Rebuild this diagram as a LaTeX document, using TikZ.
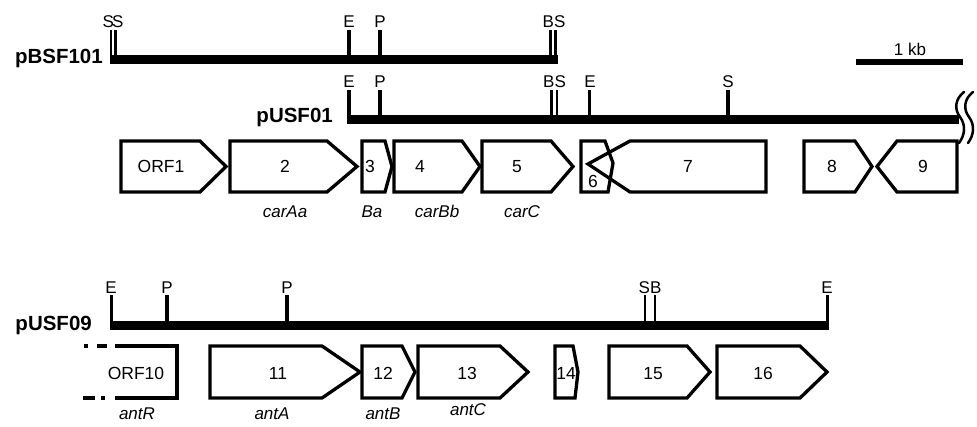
\documentclass[tikz,border=0pt]{standalone}
\usepackage{fontspec}
\setmainfont{Liberation Sans}
% forward gene: left, shoulder, tip, top, bottom
\newcommand\fwdgene[5]{\draw[gene] (#1,#4) -- (#2,#4) -- (#3,{(#4+#5)/2}) -- (#2,#5) -- (#1,#5) -- cycle;}
% reverse gene: right, shoulder, tip, top, bottom
\newcommand\revgene[5]{\draw[gene] (#1,#4) -- (#2,#4) -- (#3,{(#4+#5)/2}) -- (#2,#5) -- (#1,#5) -- cycle;}
% restriction site tick: x, top, bottom, width
\newcommand\sitetick[4]{\fill ({#1-#4/2},#2) rectangle ({#1+#4/2},#3);}
\begin{document}
\begin{tikzpicture}[x=1pt,y=-1pt,
  gene/.style={line width=3.3pt, line join=miter, fill=white, draw=black},
  sitelbl/.style={anchor=base, inner sep=0pt, font=\fontsize{17}{17}\selectfont},
  numlbl/.style={anchor=base, inner sep=0pt, font=\fontsize{17.5}{17.5}\selectfont},
  namelbl/.style={anchor=base, inner sep=0pt, font=\fontsize{17}{17}\selectfont\itshape},
  plasmid/.style={anchor=base east, inner sep=0pt, font=\fontsize{20.5}{20.5}\selectfont\bfseries},
  brk/.style={line width=2.5pt, line cap=round}]
\useasboundingbox (0,0) rectangle (977,426);

% ---------------- pBSF101 ----------------
\fill (110,55) rectangle (558,64);
\sitetick{111}{30}{55}{2.6}
\sitetick{115.3}{30}{55}{2.6}
\sitetick{349}{30}{55}{3.2}
\sitetick{380}{30}{55}{3.2}
\sitetick{550.5}{30}{55}{2.6}
\sitetick{555.5}{30}{55}{2.6}
\node[plasmid] (pbsf) at (103,63) {pBSF101};
\node[sitelbl] (b1ss) at (113,27) {S\kern-2pt S};
\node[sitelbl] (b1e) at (349,27) {E};
\node[sitelbl] (b1p) at (380,27) {P};
\node[sitelbl] (b1bs) at (554,27) {BS};

% scale bar
\fill (856,59) rectangle (963,65);
\node[sitelbl] (kb) at (910,55) {1 kb};

% ---------------- pUSF01 ----------------
\fill (347,115) rectangle (959,124);
\sitetick{349}{90}{115}{3.2}
\sitetick{380}{90}{115}{3.2}
\sitetick{551.5}{90}{115}{2.6}
\sitetick{557}{90}{115}{2.6}
\sitetick{589.5}{90}{115}{3.2}
\sitetick{728}{90}{115}{3.2}
\node[plasmid] (pusf01) at (333,122) {pUSF01};
\node[sitelbl] (u1e) at (349,87) {E};
\node[sitelbl] (u1p) at (380,87) {P};
\node[sitelbl] (u1bs) at (554.5,87) {BS};
\node[sitelbl] (u1e2) at (590,87) {E};
\node[sitelbl] (u1s) at (728,87) {S};

% break in the insert
\fill[white] (960,108) rectangle (977,130);
\draw[brk] (964,92) .. controls (955,99) and (954,109) .. (960,117)
  .. controls (966,125) and (965,135) .. (959,143);
\draw[brk] (973,92) .. controls (964,99) and (963,109) .. (969,117)
  .. controls (975,125) and (974,135) .. (968,143);

% genes, first cluster
\fwdgene{121}{200}{226}{141}{192}
\fwdgene{230}{327}{357}{141}{192}
\fwdgene{362}{385}{392}{141}{192}
\fwdgene{394}{462}{480}{141}{192}
\fwdgene{482}{551}{573}{141}{192}
\draw[gene] (581,141) -- (605,141) -- (613,163) -- (608,192) -- (581,192) -- cycle;
\draw[gene, fill=none] (766,141) -- (630,141) -- (588,164) -- (630,192) -- (766,192) -- cycle;
\fwdgene{804}{855}{872}{141}{192}
\revgene{957}{897}{877}{141}{192}

\node[numlbl] (g1) at (161,172) {ORF1};
\node[numlbl] (g2) at (285,172) {2};
\node[numlbl] (g3) at (370,172) {3};
\node[numlbl] (g4) at (420,172) {4};
\node[numlbl] (g5) at (517,172) {5};
\node[numlbl] (g6) at (593,187) {6};
\node[numlbl] (g7) at (688,172) {7};
\node[numlbl] (g8) at (832,172) {8};
\node[numlbl] (g9) at (923,172) {9};

\node[namelbl] (carAa) at (285,217) {carAa};
\node[namelbl] (Ba) at (372,217) {Ba};
\node[namelbl] (carBb) at (437,217) {carBb};
\node[namelbl] (carC) at (522,217) {carC};

% ---------------- pUSF09 ----------------
\fill (110,321) rectangle (829,330);
\sitetick{111.5}{295}{321}{3.2}
\sitetick{167}{295}{321}{3.2}
\sitetick{287}{295}{321}{3.2}
\sitetick{645}{295}{321}{2.8}
\sitetick{655}{295}{321}{2.8}
\sitetick{827.5}{295}{321}{3.2}
\node[plasmid] (pusf09) at (92,330) {pUSF09};
\node[sitelbl] (u9e) at (111,293) {E};
\node[sitelbl] (u9p) at (167,293) {P};
\node[sitelbl] (u9p2) at (287,293) {P};
\node[sitelbl] (u9sb) at (650,293) {SB};
\node[sitelbl] (u9e2) at (827,293) {E};

% truncated ORF10
\draw[line width=3.3pt, line join=miter] (115,346) -- (177,346) -- (177,398) -- (115,398);
\draw[line width=3.3pt] (84,346) -- (88,346) (97,346) -- (107,346);
\draw[line width=3.3pt] (83,398) -- (95,398) (101,398) -- (105,398);

\fwdgene{210}{322}{360}{346}{398}
\fwdgene{362}{402}{415}{346}{398}
\fwdgene{418}{500}{528}{346}{398}
\draw[gene] (555,346) -- (573,346) -- (578,372) -- (575,398) -- (555,398) -- cycle;
\fwdgene{609}{687}{710}{346}{398}
\fwdgene{717}{800}{827}{346}{398}

\node[numlbl] (g10) at (136,379) {ORF10};
\node[numlbl] (g11) at (278,379) {11};
\node[numlbl] (g12) at (383,379) {12};
\node[numlbl] (g13) at (467,379) {13};
\node[numlbl] (g14) at (566,379) {14};
\node[numlbl] (g15) at (653,379) {15};
\node[numlbl] (g16) at (763,379) {16};

\node[namelbl] (antR) at (137,419) {antR};
\node[namelbl] (antA) at (272,419) {antA};
\node[namelbl] (antB) at (383,419) {antB};
\node[namelbl] (antC) at (468,415) {antC};
\end{tikzpicture}
\end{document}
